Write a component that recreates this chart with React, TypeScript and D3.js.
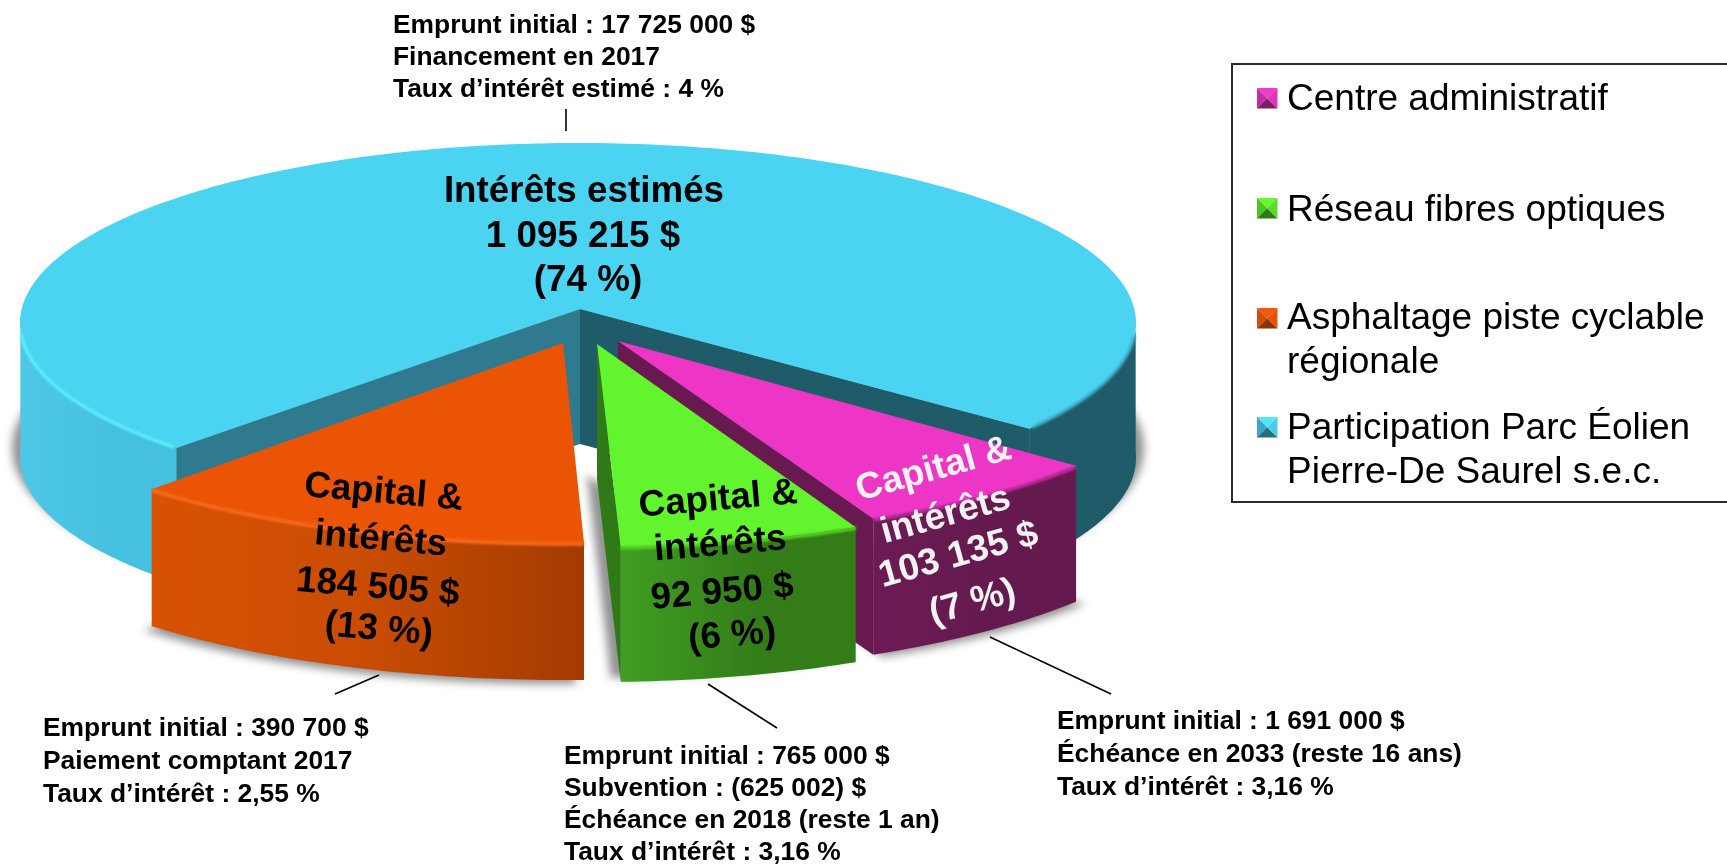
import React from "react";
import * as d3 from "d3";

// ---------- data ----------
const categories = ["Centre administratif", "Réseau fibres optiques", "Asphaltage piste cyclable régionale", "Participation Parc Éolien Pierre-De Saurel s.e.c."];
const amounts = [103135, 92950, 184505, 1095215];
const amountLabels = ["103 135 $", "92 950 $", "184 505 $", "1 095 215 $"];
const percentLabels = ["(7 %)", "(6 %)", "(13 %)", "(74 %)"];
const headLabels = [["Capital &", "intérêts"], ["Capital &", "intérêts"], ["Capital &", "intérêts"], ["Intérêts estimés"]];
const notesMagenta = ["Emprunt initial : 1 691 000 $", "Échéance en 2033 (reste 16 ans)", "Taux d’intérêt : 3,16 %"];
const notesGreen = ["Emprunt initial : 765 000 $", "Subvention : (625 002) $", "Échéance en 2018 (reste 1 an)", "Taux d’intérêt : 3,16 %"];
const notesOrange = ["Emprunt initial : 390 700 $", "Paiement comptant 2017", "Taux d’intérêt : 2,55 %"];
const notesCyan = ["Emprunt initial : 17 725 000 $", "Financement en 2017", "Taux d’intérêt estimé : 4 %"];
const legendLines = [["Centre administratif"], ["Réseau fibres optiques"], ["Asphaltage piste cyclable", "régionale"], ["Participation Parc Éolien", "Pierre-De Saurel s.e.c."]];

// ---------- layout ----------
const FONT = "'Liberation Sans', Arial, sans-serif";
const rad = (d: number) => (d * Math.PI) / 180;
const START = rad(129.3);
const pieGen = d3.pie<number>().sort(null).value((d) => d).startAngle(START).endAngle(START + 2 * Math.PI);
const arcs = pieGen(amounts);

type Geo = { ax: number; ay: number; cx: number; cy: number; rx: number; ry: number; trim: [number, number]; depth: number };
const geos: Geo[] = [
  { ax: 618, ay: 341, cx: 618, cy: 341, rx: 592, ry: 197, trim: [0, 0], depth: 136 },
  { ax: 597, ay: 344, cx: 597, cy: 344, rx: 600, ry: 203, trim: [0, 0.6], depth: 135 },
  { ax: 563, ay: 343, cx: 563, cy: 343, rx: 603, ry: 200, trim: [0.87, 0.87], depth: 137 },
  { ax: 580, ay: 309, cx: 578, cy: 323, rx: 558, ry: 180, trim: [3.9, -3.3], depth: 135 },
];
const palette = [
  { top: "#EE36C6", wall: "#681A50", side0: "#6C1B54", side1: "#641A4E", bevel: "#C52CA6" },
  { top: "#62F52D", wall: "#2F7A16", side0: "#409E22", side1: "#337C18", bevel: "#55D028" },
  { top: "#EC5405", wall: "#A53C02", side0: "#D85204", side1: "#A33B02", bevel: "#FB6A1E" },
  { top: "#4AD4F2", wall: "#2F7A8E", side0: "#4FC8E8", side1: "#45C0E0", bevel: "#5CF2FF" },
];
const swatchColors = [
  ["#F23ACB", "#C42CA4", "#7A2065", "#E034BC"],
  ["#66F82F", "#4CC426", "#2F7A16", "#58DC2A"],
  ["#F05A0A", "#D04E05", "#8A3202", "#E85206"],
  ["#52E6FA", "#3CA8C4", "#256E80", "#48CDE8"],
];

const line = d3.line();
type P = [number, number];
const pt = (g: Geo, a: number, dy = 0): P => [g.cx + g.rx * Math.sin(a), g.cy - g.ry * Math.cos(a) + dy];
const arcPts = (g: Geo, a0: number, a1: number, dy = 0): P[] => {
  const n = Math.max(2, Math.ceil(Math.abs(a1 - a0) / rad(1)));
  return d3.range(n + 1).map((i) => pt(g, a0 + ((a1 - a0) * i) / n, dy));
};
const closed = (p: P[]) => (line(p) as string) + "Z";
const angles = (i: number): [number, number] => [arcs[i].startAngle + rad(geos[i].trim[0]), arcs[i].endAngle + rad(geos[i].trim[1])];
const face = (g: Geo, a0: number, a1: number, dy = 0) => closed([[g.ax, g.ay + dy], ...arcPts(g, a0, a1, dy)]);
const band = (g: Geo, a0: number, a1: number) => closed([...arcPts(g, a0, a1), ...arcPts(g, a0, a1, g.depth).reverse()]);
const wall = (g: Geo, a: number) => {
  const e = pt(g, a);
  return closed([[g.ax, g.ay], e, [e[0], e[1] + g.depth], [g.ax, g.ay + g.depth]]);
};

const cyan = geos[3];
const [cyan0, cyan1] = angles(3);
const cyanShadow: Geo = { ...cyan, ay: cyan.ay - 10, cy: cyan.cy - 10, rx: cyan.rx + 8, ry: cyan.ry + 2 };
const shadowOffsets: P[] = [[9, 2], [-10, -4], [-8, 4]];

// label anchors: centre of each text line and its rotation
const labelAnchors: { pts: P[]; rot: number; fill: string }[] = [
  { pts: [[933, 467], [945, 513], [958, 553], [972, 600]], rot: -15.5, fill: "#F2F2F2" },
  { pts: [[718, 497], [720, 542], [722, 590], [732, 633]], rot: -5, fill: "#000" },
  { pts: [[384, 490], [381, 537], [378, 585], [379, 627]], rot: 5, fill: "#000" },
  { pts: [[584, 189], [583, 234], [588, 278]], rot: 0, fill: "#000" },
];

const noteBlocks: { lines: string[]; x: number; y0: number; step: number }[] = [
  { lines: notesCyan, x: 393, y0: 33, step: 32 },
  { lines: notesOrange, x: 43, y0: 736, step: 33 },
  { lines: notesGreen, x: 564, y0: 764, step: 32 },
  { lines: notesMagenta, x: 1057, y0: 729, step: 33 },
];
const leaders: [number, number, number, number][] = [
  [566, 109, 566, 131],
  [379, 675, 335, 694],
  [708, 684, 777, 728],
  [990, 637, 1111, 694],
];
const legendX = 1287;
const legendBaselines = [[110], [221], [329, 373], [439, 483]];
const swatchTops = [88, 198, 308, 417];

function Swatch({ x, y, s, c }: { x: number; y: number; s: number; c: string[] }) {
  const m: P = [x + s / 2, y + s / 2];
  const tl: P = [x, y], tr: P = [x + s, y], br: P = [x + s, y + s], bl: P = [x, y + s];
  return (
    <g>
      <path d={closed([tl, tr, m])} fill={c[0]} />
      <path d={closed([tl, bl, m])} fill={c[1]} />
      <path d={closed([bl, br, m])} fill={c[2]} />
      <path d={closed([tr, br, m])} fill={c[3]} />
    </g>
  );
}

export default function App() {
  return (
    <svg width={1727} height={866} viewBox="0 0 1727 866" style={{ position: "absolute", left: 0, top: 0, display: "block", background: "#fff" }}>
      <defs>
        <filter id="sh" x="-10%" y="-20%" width="120%" height="140%">
          <feGaussianBlur stdDeviation="4.5" />
        </filter>
        <filter id="bev" x="-5%" y="-20%" width="110%" height="140%">
          <feGaussianBlur stdDeviation="1.2" />
        </filter>
        {palette.map((p, i) => (
          <linearGradient key={i} id={`side${i}`} x1="0" x2="1" y1="0" y2="0">
            <stop offset="0" stopColor={p.side0} />
            <stop offset={i === 2 ? 0.5 : 0.6} stopColor={i === 2 ? "#C94C03" : p.side1} />
            <stop offset="1" stopColor={p.side1} />
          </linearGradient>
        ))}
      </defs>

      {/* shadows */}
      <g fill="#6e6e6e" opacity={0.75} filter="url(#sh)">
        <path d={face(cyanShadow, cyan0, cyan1, cyan.depth)} />
        {[0, 1, 2].map((i) => {
          const [a0, a1] = angles(i);
          return <path key={i} d={face(geos[i], a0, a1, geos[i].depth)} transform={`translate(${shadowOffsets[i][0]},${shadowOffsets[i][1]})`} />;
        })}
      </g>

      {/* large slice */}
      <path d={wall(cyan, cyan0)} fill={palette[3].wall} />
      <path d={wall(cyan, cyan1)} fill="#1F5B68" />
      <path d={band(cyan, cyan0, rad(272))} fill="url(#side3)" />
      <path d={band(cyan, rad(448), cyan1)} fill="#1F5B68" />
      <path d={face(cyan, cyan0, cyan1)} fill={palette[3].top} />
      <path d={line(arcPts(cyan, cyan0 + rad(0.5), rad(266))) as string} fill="none" stroke={palette[3].bevel} strokeWidth={3} strokeLinecap="round" filter="url(#bev)" />
      <path d={line(arcPts(cyan, rad(454), cyan1 - rad(0.5))) as string} fill="none" stroke="#3AA6BC" strokeWidth={3} filter="url(#bev)" />

      {/* pulled-out slices, back to front */}
      {[0, 1, 2].map((i) => {
        const g = geos[i];
        const [a0, a1] = angles(i);
        const p = palette[i];
        return (
          <g key={i}>
            {i !== 2 && <path d={wall(g, a1)} fill={p.wall} />}
            <path d={band(g, a0, a1)} fill={`url(#side${i})`} />
            <path d={face(g, a0, a1)} fill={p.top} />
            <path d={line(arcPts(g, a0, a1, 1)) as string} fill="none" stroke={p.bevel} strokeWidth={3.5} filter="url(#bev)" />
          </g>
        );
      })}

      {/* slice labels */}
      <g fontFamily={FONT} fontWeight="bold" fontSize={36.8} textAnchor="middle">
        {labelAnchors.map((la, i) => {
          const textLines = [...headLabels[i], amountLabels[i], percentLabels[i]];
          return textLines.map((t, j) => (
            <text key={`${i}-${j}`} x={la.pts[j][0]} y={la.pts[j][1]} dy=".35em" fill={la.fill} transform={`rotate(${la.rot},${la.pts[j][0]},${la.pts[j][1]})`}>
              {t}
            </text>
          ));
        })}
      </g>

      {/* notes & leaders */}
      <g fontFamily={FONT} fontWeight="bold" fontSize={26.4} fill="#000">
        {noteBlocks.map((b, i) =>
          b.lines.map((t, j) => (
            <text key={`${i}-${j}`} x={b.x} y={b.y0 + j * b.step}>
              {t}
            </text>
          ))
        )}
      </g>
      <g stroke="#000" strokeWidth={1.6}>
        {leaders.map((l, i) => (
          <line key={i} x1={l[0]} y1={l[1]} x2={l[2]} y2={l[3]} />
        ))}
      </g>

      {/* legend */}
      <rect x={1232} y={64} width={520} height={438} fill="#fff" stroke="#2b2b2b" strokeWidth={2} />
      {categories.map((c, i) => (
        <g key={c}>
          <Swatch x={1257} y={swatchTops[i]} s={20.5} c={swatchColors[i]} />
          {legendLines[i].map((t, j) => (
            <text key={j} x={legendX} y={legendBaselines[i][j]} fontFamily={FONT} fontSize={37} fill="#000">
              {t}
            </text>
          ))}
        </g>
      ))}
    </svg>
  );
}
